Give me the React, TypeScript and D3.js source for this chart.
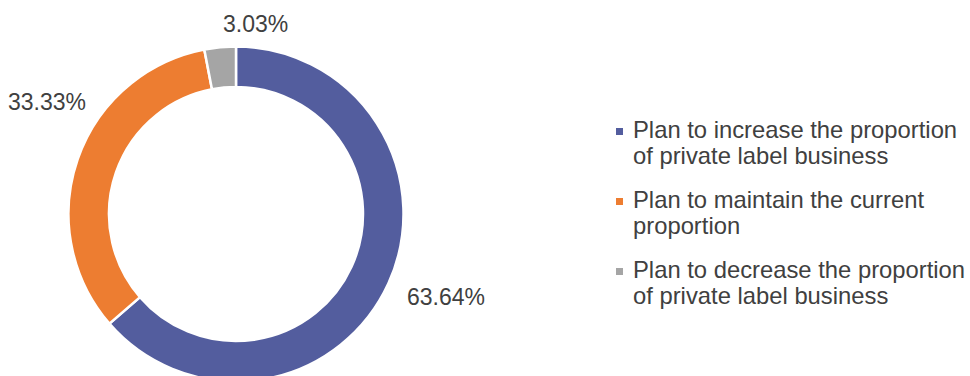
import React from "react";
import * as d3 from "d3";

const categories = [
  "Plan to increase the proportion of private label business",
  "Plan to maintain the current proportion",
  "Plan to decrease the proportion of private label business",
];
const legendLines = [
  ["Plan to increase the proportion", "of private label business"],
  ["Plan to maintain the current", "proportion"],
  ["Plan to decrease the proportion", "of private label business"],
];
const values = [63.64, 33.33, 3.03];
const valueLabels = ["63.64%", "33.33%", "3.03%"];
const colors = ["#535D9E", "#ED7D31", "#A5A5A5"];

// layout
const W = 970;
const H = 376;
const CX = 236;
const CY = 214;
const R_OUT = 167.5;
const R_IN = 127;
const labelPos = [
  { x: 407, y: 305, anchor: "start" },
  { x: 8, y: 110, anchor: "start" },
  { x: 223, y: 32, anchor: "start" },
];
const FONT = "'Liberation Sans', Arial, sans-serif";
const TEXT = "#404040";

export default function App() {
  const pie = d3
    .pie<number>()
    .sort(null)
    .value((d) => d)
    .startAngle(0)
    .endAngle(2 * Math.PI);
  const arcs = pie(values);
  const arc = d3.arc<d3.PieArcDatum<number>>().innerRadius(R_IN).outerRadius(R_OUT);

  const legendX = 633;
  const legendY0 = 138;
  const groupGap = 70;
  const lineGap = 26;

  return (
    <svg
      width={W}
      height={H}
      style={{ position: "absolute", left: 0, top: 0, background: "#fff" }}
      fontFamily={FONT}
    >
      <g transform={`translate(${CX},${CY})`}>
        {arcs.map((a, i) => (
          <path key={i} d={arc(a) || ""} fill={colors[i]} stroke="#fff" strokeWidth={2.5} strokeLinejoin="miter" />
        ))}
      </g>
      {arcs.map((a, i) => (
        <text
          key={"l" + i}
          x={labelPos[i].x}
          y={labelPos[i].y}
          textAnchor={labelPos[i].anchor as any}
          fontSize={23}
          fill={TEXT}
        >
          {valueLabels[i]}
        </text>
      ))}
      {categories.map((c, i) => {
        const y = legendY0 + i * groupGap;
        return (
          <g key={"g" + i}>
            <title>{c}</title>
            <rect x={616} y={y - 10} width={7} height={7} fill={colors[i]} />
            {legendLines[i].map((ln, j) => (
              <text key={j} x={legendX} y={y + j * lineGap} fontSize={23.8} fill={TEXT}>
                {ln}
              </text>
            ))}
          </g>
        );
      })}
    </svg>
  );
}
